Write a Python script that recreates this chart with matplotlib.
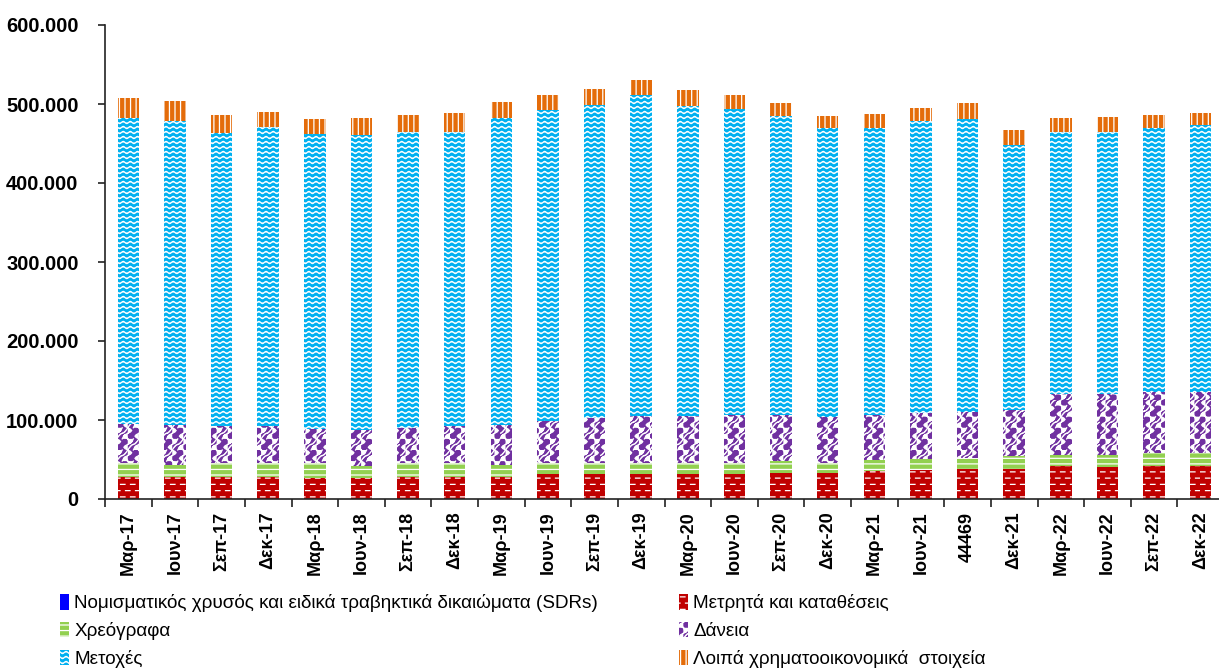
import warnings
import numpy as np
import matplotlib
matplotlib.use("Agg")
import matplotlib.pyplot as plt
import matplotlib.hatch as mhatch
from matplotlib.path import Path
from matplotlib.patches import Patch
from matplotlib.ticker import FuncFormatter, MultipleLocator, FixedLocator

warnings.filterwarnings("ignore")

# ---------------- data ----------------
categories = ["Μαρ-17", "Ιουν-17", "Σεπ-17", "Δεκ-17", "Μαρ-18", "Ιουν-18", "Σεπ-18", "Δεκ-18",
              "Μαρ-19", "Ιουν-19", "Σεπ-19", "Δεκ-19", "Μαρ-20", "Ιουν-20", "Σεπ-20", "Δεκ-20",
              "Μαρ-21", "Ιουν-21", "44469", "Δεκ-21", "Μαρ-22", "Ιουν-22", "Σεπ-22", "Δεκ-22"]

gold = [0, 0, 0, 0, 0, 0, 0, 0, 0, 0, 0, 0, 0, 0, 0, 0, 0, 0, 0, 0, 0, 0, 0, 0]
cash = [28000, 28000, 28000, 28000, 27000, 27000, 28000, 28000, 28000, 31500, 31500, 31500,
        31500, 31500, 33000, 33000, 35000, 36500, 38000, 38000, 41500, 40000, 41500, 41500]
bonds = [17000, 15000, 17000, 17000, 18000, 15000, 17000, 17000, 15000, 13500, 13500, 13500,
         13500, 13500, 14500, 12000, 14500, 14500, 14000, 16000, 14000, 15500, 17000, 17000]
loans = [49500, 50500, 47000, 47000, 43000, 45000, 45500, 47000, 50500, 53500, 57000, 60000,
         60000, 61000, 58500, 59000, 56500, 58000, 58000, 59000, 78000, 78000, 77500, 76500]
shares = [388000, 385500, 371000, 379000, 374000, 374000, 373500, 373000, 388500, 393500, 397000, 407000,
          392500, 388000, 379000, 365000, 364000, 370000, 371500, 335000, 331500, 331500, 333000, 338000]
other = [24500, 25000, 23000, 19000, 19000, 21500, 22000, 24000, 20000, 20000, 20000, 18000,
         20000, 18000, 16000, 16000, 17000, 16000, 19500, 19000, 17000, 18000, 17000, 16000]

series_labels = ["Νομισματικός χρυσός και ειδικά τραβηκτικά δικαιώματα (SDRs)",
                 "Μετρητά και καταθέσεις",
                 "Χρεόγραφα",
                 "Δάνεια",
                 "Μετοχές",
                 "Λοιπά χρηματοοικονομικά  στοιχεία"]

# ---------------- custom hatch patterns ----------------
class WaveHatch(mhatch.HatchPatternBase):
    """white wavy lines, triggered by 'o'"""
    def __init__(self, hatch, density):
        self.rows = hatch.count('o') * 20
        self.periods = 14
        self.pts = self.periods * 8 + 1
        self.num_vertices = self.rows * self.pts

    def set_vertices_and_codes(self, vertices, codes):
        step = 1.0 / self.rows
        xs = np.linspace(0, 1, self.pts)
        amp = 0.011
        for r in range(self.rows):
            y0 = step * (r + 0.5)
            sl = slice(r * self.pts, (r + 1) * self.pts)
            vertices[sl, 0] = xs
            vertices[sl, 1] = y0 + amp * np.sin(2 * np.pi * self.periods * xs)
            codes[sl] = Path.LINETO
            codes[r * self.pts] = Path.MOVETO


class BrickHatch(mhatch.HatchPatternBase):
    """short white dashes in brick layout, triggered by 'O'"""
    def __init__(self, hatch, density):
        self.rows = hatch.count('O') * 16
        self.per = 10
        self.num_vertices = self.rows * self.per * 2

    def set_vertices_and_codes(self, vertices, codes):
        step = 1.0 / self.rows
        i = 0
        for r in range(self.rows):
            y = step * (r + 0.5)
            off = 0.005 if r % 2 == 0 else 0.055
            for k in range(self.per):
                x0 = off + k * 0.1
                vertices[i] = (x0, y)
                vertices[i + 1] = (x0 + 0.045, y)
                codes[i] = Path.MOVETO
                codes[i + 1] = Path.LINETO
                i += 2


class WeaveHatch(mhatch.HatchPatternBase):
    """curvy lattice, triggered by '*'"""
    def __init__(self, hatch, density):
        self.n = hatch.count('*') * 9
        self.pts = 9
        self.num_vertices = self.n * 2 * self.n * self.pts

    def set_vertices_and_codes(self, vertices, codes):
        cell = 1.0 / self.n
        i = 0
        t = np.linspace(0, 1, self.pts)
        for a in range(self.n):
            for b in range(self.n):
                x0, y0 = a * cell, b * cell
                xs = x0 + t * cell
                if (a + b) % 2:
                    ys = y0 + cell * 0.5 + 0.35 * cell * np.sin(2 * np.pi * t)
                else:
                    ys = y0 + cell * (0.5 - 0.5 * np.cos(np.pi * t))
                vertices[i:i + self.pts, 0] = xs
                vertices[i:i + self.pts, 1] = ys
                codes[i:i + self.pts] = Path.LINETO
                codes[i] = Path.MOVETO
                i += self.pts
                xs2 = x0 + cell * (0.5 + 0.35 * np.sin(2 * np.pi * t))
                ys2 = y0 + t * cell
                vertices[i:i + self.pts, 0] = xs2
                vertices[i:i + self.pts, 1] = ys2
                codes[i:i + self.pts] = Path.LINETO
                codes[i] = Path.MOVETO
                i += self.pts


mhatch._hatch_types[:] = [mhatch.HorizontalHatch, mhatch.VerticalHatch,
                          mhatch.NorthEastHatch, mhatch.SouthEastHatch,
                          WaveHatch, BrickHatch, WeaveHatch]

plt.rcParams['hatch.linewidth'] = 0.9

colors = ["#0000FF", "#C00000", "#92D050", "#7030A0", "#00B0F0", "#E46C0A"]
hatches = [None, "O", "---", "*", "o", "|||"]

# ---------------- figure ----------------
fig = plt.figure(figsize=(12.19, 6.71), dpi=100)
W, H = 1219.0, 671.0
x_left, x_right = 105, 1224
y_top, y_bot = 25, 499
ax = fig.add_axes([x_left / W, 1 - y_bot / H, (x_right - x_left) / W, (y_bot - y_top) / H])

x = np.arange(len(categories))
data = [gold, cash, bonds, loans, shares, other]
bottom = np.zeros(len(categories))
handles = []
for vals, col, hat, lab in zip(data, colors, hatches, series_labels):
    vals = np.array(vals, dtype=float)
    ax.bar(x, vals, width=0.46, bottom=bottom, color=col, hatch=hat,
           edgecolor="white", linewidth=0)
    bottom += vals
    handles.append(Patch(facecolor=col, hatch=hat, edgecolor="white", linewidth=0, label=lab))

ax.set_xlim(-0.5, len(categories) - 0.5)
ax.set_ylim(0, 600000)
ax.yaxis.set_major_locator(MultipleLocator(100000))
ax.yaxis.set_major_formatter(FuncFormatter(lambda v, p: "0" if v == 0 else f"{int(v):,}".replace(",", ".")))

for s in ["top", "right"]:
    ax.spines[s].set_visible(False)
for s in ["left", "bottom"]:
    ax.spines[s].set_linewidth(1.2)
    ax.spines[s].set_color("#222222")

ax.set_xticks(x)
ax.set_xticklabels(categories, rotation=90, fontsize=13, fontweight="bold",
                   family="Liberation Sans")
ax.xaxis.set_minor_locator(FixedLocator(np.arange(-0.5, len(categories), 1.0)))
ax.tick_params(axis="x", which="major", length=0, pad=9)
ax.tick_params(axis="x", which="minor", length=6, width=1.2, direction="out", color="#222222")
ax.tick_params(axis="y", which="major", length=5, width=1.2, direction="out", pad=14,
               color="#222222")
for t in ax.get_yticklabels():
    t.set_fontsize(14.5)
    t.set_fontweight("bold")
    t.set_family("Liberation Sans")

legfont = {"family": ["Liberation Sans", "DejaVu Sans"], "size": 13.6}
common = dict(loc="upper left", frameon=False, prop=legfont, handlelength=0.45,
              handleheight=0.9, handletextpad=0.3, labelspacing=0.5,
              borderaxespad=0, borderpad=0)
leg1 = fig.legend(handles=[handles[0], handles[2], handles[4]],
                  bbox_to_anchor=(60 / W, 1 - 594 / H), **common)
leg2 = fig.legend(handles=[handles[1], handles[3], handles[5]],
                  bbox_to_anchor=(679 / W, 1 - 594 / H), **common)

fig.savefig("out.png", dpi=100)
